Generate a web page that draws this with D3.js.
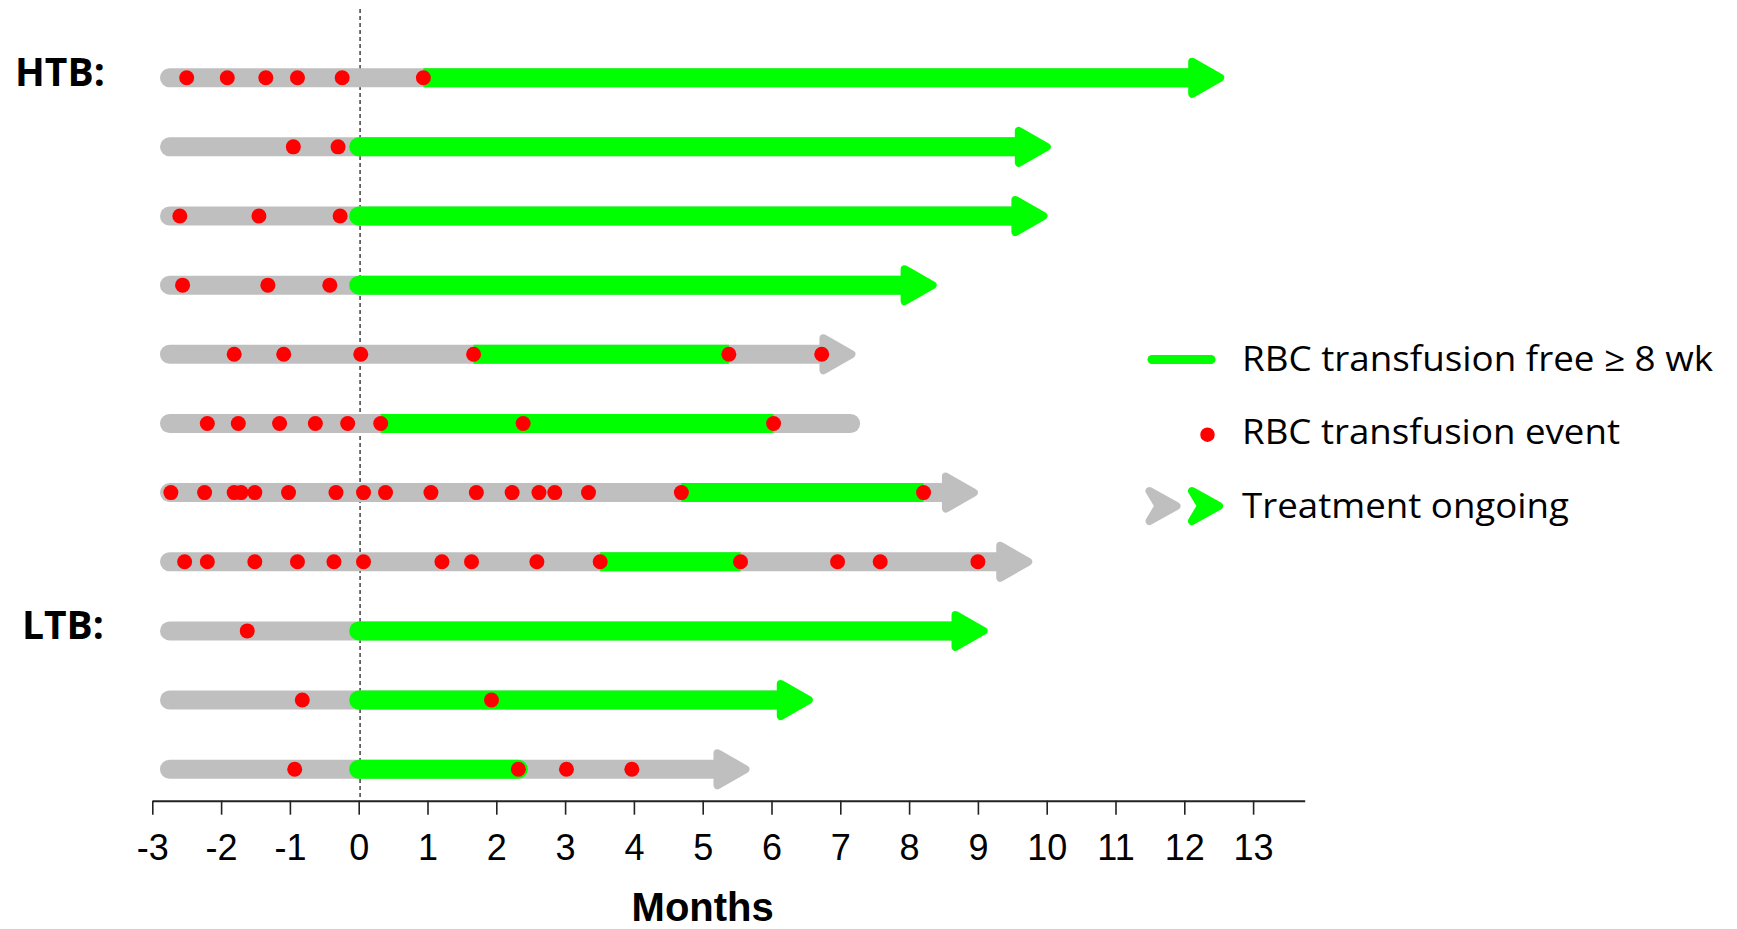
<!DOCTYPE html>
<html lang="en">
<head>
    <meta charset="UTF-8">
    <title>RBC transfusion timeline</title>
    <script src="https://d3js.org/d3.v7.min.js"></script>
    <style>
        * {
            margin: 0;
            padding: 0;
            box-sizing: border-box;
        }

        body {
            background: #ffffff;
            width: 1737px;
            height: 929px;
            overflow: hidden;
        }

        svg {
            display: block;
        }

        .tick text {
            font-family: "Liberation Sans", Arial, sans-serif;
            font-size: 36px;
            fill: #000;
        }
    </style>
</head>

<body>
    <div id="chart"></div>
    <script>
        // one entry per patient, top to bottom
        const patients = ["HTB-1", "HTB-2", "HTB-3", "HTB-4", "HTB-5", "HTB-6", "HTB-7", "HTB-8", "LTB-1", "LTB-2", "LTB-3"];
        const groupLabels = ["HTB:", "LTB:"];
        const groupFirstRow = ["HTB-1", "LTB-1"];

        // months, relative to start of treatment
        const followStart = [-2.75, -2.75, -2.75, -2.75, -2.75, -2.75, -2.75, -2.75, -2.75, -2.75, -2.75];
        const followEnd = [12.58, 10.06, 10.01, 8.40, 7.22, 7.15, 9.00, 9.79, 9.14, 6.60, 5.68];
        const ongoing = [true, true, true, true, true, false, true, true, true, true, true];
        const freeStart = [0.94, 0, 0, 0, 1.67, 0.32, 4.69, 3.51, 0, 0, 0];
        const freeEnd = [12.58, 10.06, 10.01, 8.40, 5.38, 6.03, 8.21, 5.55, 9.14, 6.60, 2.32];
        const transfusions = [
            [-2.50, -1.91, -1.35, -0.89, -0.24, 0.94],
            [-0.95, -0.30],
            [-2.60, -1.45, -0.27],
            [-2.56, -1.32, -0.42],
            [-1.81, -1.09, 0.03, 1.67, 5.38, 6.73],
            [-2.20, -1.75, -1.15, -0.63, -0.16, 0.32, 2.39, 6.03],
            [-2.73, -2.24, -1.81, -1.71, -1.51, -1.02, -0.33, 0.07, 0.39, 1.05, 1.71, 2.23, 2.62, 2.85, 3.34, 4.69, 8.21],
            [-2.53, -2.20, -1.51, -0.89, -0.36, 0.07, 1.21, 1.64, 2.59, 3.51, 5.55, 6.96, 7.58, 9.00],
            [-1.62],
            [-0.82, 1.93],
            [-0.93, 2.32, 3.02, 3.97]
        ];
        const monthTicks = d3.range(-3, 14);
        const legendLabels = ["RBC transfusion free \u2265 8 wk", "RBC transfusion event", "Treatment ongoing"];

        const GRAY = "#bfbfbf";
        const GREEN = "#00ff00";
        const RED = "#ff0000";

        const width = 1737;
        const height = 929;

        const svg = d3.select("#chart")
            .append("svg")
            .attr("width", width)
            .attr("height", height);

        const x = d3.scaleLinear().domain([-3, 13.75]).range([152.3, 1304.7]);
        const y = d3.scalePoint().domain(patients).range([77.7, 769.2]);

        const rows = patients.map((p, i) => ({
            id: p,
            start: followStart[i],
            end: followEnd[i],
            ongoing: ongoing[i],
            freeStart: freeStart[i],
            freeEnd: freeEnd[i],
            events: transfusions[i]
        }));

        // axis
        const axis = svg.append("g")
            .attr("transform", `translate(0,${800.7})`)
            .call(d3.axisBottom(x)
                .tickValues(monthTicks)
                .tickFormat(d => String(d))
                .tickSize(14)
                .tickSizeOuter(0)
                .tickPadding(20));
        axis.select(".domain").attr("stroke", "#222").attr("stroke-width", 2);
        axis.selectAll(".tick line").attr("stroke", "#222").attr("stroke-width", 1.6);

        svg.append("text")
            .attr("x", (x(-3) + x(13)) / 2)
            .attr("y", 921)
            .attr("text-anchor", "middle")
            .style("font-family", "Liberation Sans, Arial, sans-serif")
            .style("font-weight", "bold")
            .style("font-size", "40px")
            .text("Months");

        // start of treatment
        svg.append("line")
            .attr("x1", x(0.02)).attr("x2", x(0.02))
            .attr("y1", 9).attr("y2", 800)
            .attr("stroke", "#333")
            .attr("stroke-width", 1.4)
            .attr("stroke-dasharray", "4,3");

        const ARROW_BACK = 30; // px the bar stops short of the arrow tip
        const arrowPath = "M0,-16 L28,0 L0,16 Z";

        const row = svg.selectAll(".row")
            .data(rows)
            .join("g")
            .attr("class", "row")
            .attr("transform", d => `translate(0,${y(d.id)})`);

        // follow-up bar
        row.append("line")
            .attr("x1", d => x(d.start))
            .attr("x2", d => d.ongoing ? x(d.end) - ARROW_BACK : x(d.end))
            .attr("stroke", GRAY)
            .attr("stroke-width", 19)
            .attr("stroke-linecap", "round");

        // transfusion free period
        row.append("line")
            .attr("x1", d => x(d.freeStart))
            .attr("x2", d => d.freeEnd >= d.end ? x(d.end) - ARROW_BACK : x(d.freeEnd))
            .attr("stroke", GREEN)
            .attr("stroke-width", 19)
            .attr("stroke-linecap", d => d.events.includes(d.freeStart) ? "butt" : "round");

        // ongoing arrows
        row.filter(d => d.ongoing)
            .append("path")
            .attr("d", arrowPath)
            .attr("transform", d => `translate(${x(d.end) - 32},0)`)
            .attr("fill", d => d.freeEnd >= d.end ? GREEN : GRAY)
            .attr("stroke", d => d.freeEnd >= d.end ? GREEN : GRAY)
            .attr("stroke-width", 8)
            .attr("stroke-linejoin", "round");

        // transfusion events
        row.selectAll("circle")
            .data(d => d.events)
            .join("circle")
            .attr("cx", d => x(d))
            .attr("r", 7.5)
            .attr("fill", RED);

        // group labels
        svg.selectAll(".group")
            .data(groupLabels)
            .join("text")
            .attr("class", "group")
            .attr("x", (d, i) => i === 0 ? 15 : 22)
            .attr("y", (d, i) => y(groupFirstRow[i]) + 8)
            .style("font-family", "Open Sans, sans-serif")
            .style("font-weight", "bold")
            .style("font-size", "39px")
            .text(d => d);

        // legend
        const legend = svg.append("g");
        const legendY = [359.5, 434.7, 506];
        const textY = [370.7, 444.3, 518.3];
        const textWidth = [471, 378, 327];

        legend.append("line")
            .attr("x1", 1152).attr("x2", 1211)
            .attr("y1", legendY[0]).attr("y2", legendY[0])
            .attr("stroke", GREEN)
            .attr("stroke-width", 9)
            .attr("stroke-linecap", "round");

        legend.append("circle")
            .attr("cx", 1207.5).attr("cy", legendY[1])
            .attr("r", 7.2)
            .attr("fill", RED);

        const chevron = "M0,-15 L27,0 L0,15 L9,0 Z";
        legend.selectAll(".chev")
            .data([GRAY, GREEN])
            .join("path")
            .attr("class", "chev")
            .attr("d", chevron)
            .attr("transform", (d, i) => `translate(${i === 0 ? 1149.5 : 1192},${legendY[2]})`)
            .attr("fill", d => d)
            .attr("stroke", d => d)
            .attr("stroke-width", 8)
            .attr("stroke-linejoin", "round");

        legend.selectAll(".ltext")
            .data(legendLabels)
            .join("text")
            .attr("class", "ltext")
            .attr("x", 1242)
            .attr("y", (d, i) => textY[i])
            .attr("textLength", (d, i) => textWidth[i])
            .attr("lengthAdjust", "spacingAndGlyphs")
            .style("font-family", "Open Sans, sans-serif")
            .style("font-size", "34px")
            .style("fill", "#000")
            .text(d => d);
    </script>
</body>

</html>
